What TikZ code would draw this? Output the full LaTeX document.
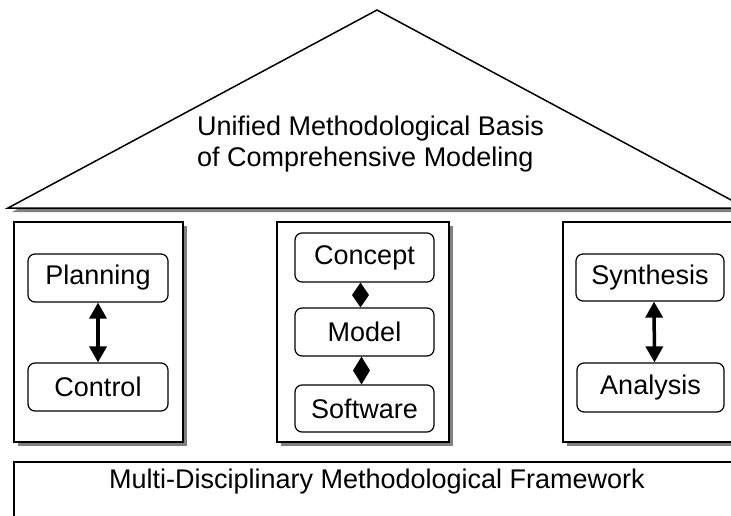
\documentclass[tikz,border=0pt]{standalone}
\usepackage{fontspec}
\setmainfont{Liberation Sans}
\usetikzlibrary{arrows.meta,shadows,calc}
\begin{document}
\begin{tikzpicture}[x=1pt,y=-1pt,
  every node/.style={font=\fontsize{27}{31}\selectfont, inner sep=0pt},
  pillar/.style={draw, line width=1.5pt, fill=white,
    drop shadow={shadow xshift=4pt, shadow yshift=-4pt, fill=black!50, opacity=1}},
  item/.style={draw, line width=1.2pt, rounded corners=7pt, fill=white},
  link/.style={line width=3.5pt, {Triangle[width=17pt,length=16pt]}-{Triangle[width=17pt,length=16pt]}},
  gem/.style={fill=black}
]
\useasboundingbox (0,0) rectangle (731,515);
\clip (0,0) rectangle (731,515);
% roof
\coordinate (apex) at (377,10);
\coordinate (eaveL) at (8,208);
\coordinate (eaveR) at (746,208);
\fill[black!50] ([shift={(4,4)}]eaveL) -- ([shift={(4,4)}]apex) -- ([shift={(4,4)}]eaveR) -- cycle;
\draw[line width=1.5pt, fill=white] (eaveL) -- (apex) -- (eaveR) -- cycle;
\node[anchor=base west] (roofA) at (197,135) {Unified Methodological Basis};
\node[anchor=base west] (roofB) at (197,166) {of Comprehensive Modeling};
% pillars
\node[pillar, minimum width=169pt, minimum height=220pt] (left) at (98.5,332) {};
\node[pillar, minimum width=172pt, minimum height=220pt] (mid) at (363,332) {};
\node[pillar, minimum width=182pt, minimum height=220pt] (right) at (654,332) {};
% foundation
\node[pillar, minimum width=731pt, minimum height=68pt] (frame) at (379.5,496) {};
\node[anchor=base] (frameText) at (377,488) {Multi-Disciplinary Methodological Framework};
% items
\node[item, minimum width=140pt, minimum height=48pt] (planning) at (98,278) {Planning};
\node[item, minimum width=140pt, minimum height=48pt] (control) at (98,387) {Control};
\node[item, minimum width=139pt, minimum height=49pt] (concept) at (364.5,257.5) {Concept};
\node[item, minimum width=139pt, minimum height=48pt] (model) at (364.5,332) {Model};
\node[item, minimum width=139pt, minimum height=47pt] (software) at (364.5,408.5) {Software};
\node[item, minimum width=148pt, minimum height=47pt] (synthesis) at (650,277.5) {Synthesis};
\node[item, minimum width=147pt, minimum height=49pt] (analysis) at (650.5,387.5) {Analysis};
% connectors
\draw[link] (planning.south) -- (control.north);
\draw[link] ([xshift=4pt]synthesis.south) -- ([xshift=4pt]analysis.north);
\fill[gem] ([xshift=-4pt]concept.south) -- ($([xshift=-4pt]concept.south)!0.5!([xshift=-4pt]model.north)+(8.5,0)$) -- ([xshift=-4pt]model.north) -- ($([xshift=-4pt]concept.south)!0.5!([xshift=-4pt]model.north)+(-8.5,0)$) -- cycle;
\fill[gem] ([xshift=-3pt]model.south) -- ($([xshift=-3pt]model.south)!0.5!([xshift=-3pt]software.north)+(8.5,0)$) -- ([xshift=-3pt]software.north) -- ($([xshift=-3pt]model.south)!0.5!([xshift=-3pt]software.north)+(-8.5,0)$) -- cycle;
\end{tikzpicture}
\end{document}
